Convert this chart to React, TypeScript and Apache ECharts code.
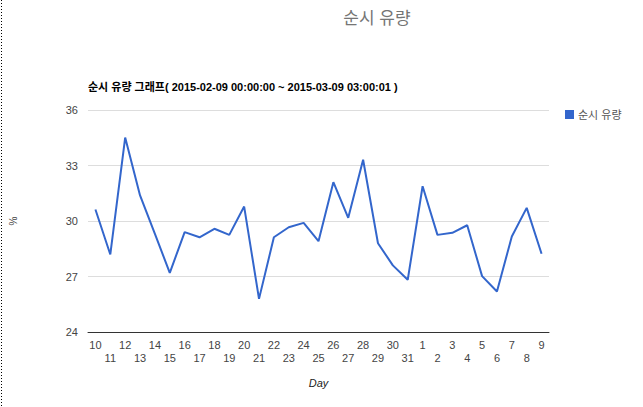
import React, { useEffect, useRef } from "react";
import * as echarts from "echarts";

const days = ["10","11","12","13","14","15","16","17","18","19","20","21","22","23","24","25","26","27","28","29","30","31","1","2","3","4","5","6","7","8","9"];
const flow = [30.62,28.19,34.51,31.38,29.3,27.2,29.4,29.12,29.58,29.25,30.78,25.79,29.12,29.66,29.9,28.91,32.1,30.17,33.31,28.8,27.6,26.82,31.88,29.25,29.36,29.77,27.02,26.19,29.16,30.71,28.23];
const yTicks = [24, 27, 30, 33, 36];
const seriesName = "순시 유량";
const titleText = "순시 유량";
const subTitle = "순시 유량 그래프( 2015-02-09 00:00:00 ~ 2015-03-09 03:00:01 )";

const FONT = "'Liberation Sans', Arial, 'Noto Sans CJK KR', sans-serif";

export default function App() {
  const ref = useRef<HTMLDivElement>(null);
  useEffect(() => {
    const chart = echarts.init(ref.current!, null, { renderer: "svg" });
    chart.setOption({
      animation: false,
      textStyle: { fontFamily: FONT },
      grid: { left: 88, right: 94, top: 110, bottom: 75, containLabel: false },
      graphic: [
        { type: "line", shape: { x1: 1.5, y1: 0, x2: 1.5, y2: 407 }, style: { stroke: "#000", lineWidth: 1, lineDash: [1, 2] } },
        { type: "text", x: 377, y: 18, style: { text: titleText, fontSize: 17, fill: "#757575", fontFamily: FONT, textAlign: "center", textVerticalAlign: "middle" } },
        { type: "text", x: 88, y: 87, style: { text: subTitle, fontSize: 11, fontWeight: "bold", fill: "#000", fontFamily: FONT, textAlign: "left", textVerticalAlign: "middle" } },
      ],
      legend: {
        data: [seriesName],
        left: 560, top: 104,
        icon: "rect", itemWidth: 9, itemHeight: 9, itemGap: 4,
        textStyle: { fontSize: 11, color: "#555", fontFamily: FONT, padding: [0, 0, 0, -1] },
      },
      xAxis: {
        type: "category",
        data: days,
        boundaryGap: true,
        name: "Day",
        nameLocation: "middle",
        nameGap: 45,
        nameTextStyle: { fontSize: 11, fontStyle: "italic", color: "#222", fontFamily: FONT },
        axisLine: { lineStyle: { color: "#333", width: 1 } },
        axisTick: { show: false },
        axisLabel: {
          interval: 0, margin: 6, fontSize: 11, color: "#444", lineHeight: 13, fontFamily: FONT,
          formatter: (v: string, i: number) => (i % 2 ? "\n" + v : v),
        },
      },
      yAxis: {
        type: "value",
        min: yTicks[0], max: yTicks[yTicks.length - 1], interval: 3,
        name: "%",
        nameLocation: "middle",
        nameGap: 70,
        nameTextStyle: { fontSize: 10, color: "#444", fontFamily: FONT },
        axisLine: { show: false },
        axisTick: { show: false },
        axisLabel: { margin: 10, fontSize: 11, color: "#444", fontFamily: FONT },
        splitLine: { lineStyle: { color: "#ddd", width: 1 } },
      },
      series: [{
        name: seriesName,
        type: "line",
        data: flow,
        showSymbol: false,
        symbol: "none",
        itemStyle: { color: "#3366cc" },
        lineStyle: { color: "#3366cc", width: 2 },
      }],
    });
    return () => chart.dispose();
  }, []);
  return <div ref={ref} style={{ position: "fixed", left: 0, top: 0, width: 643, height: 407, background: "#fff" }} />;
}
